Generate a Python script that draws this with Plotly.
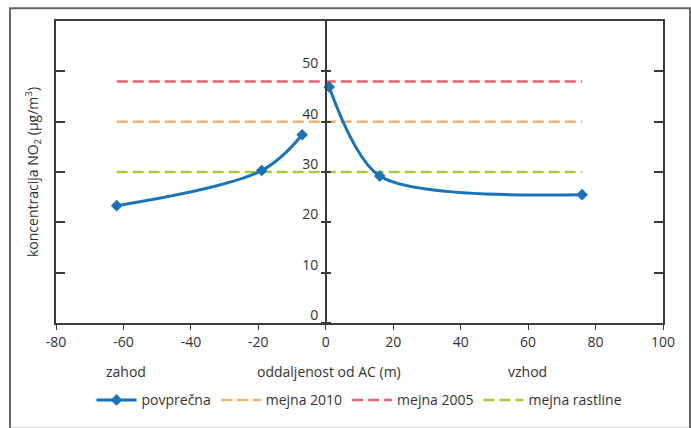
import plotly.graph_objects as go

# data
west_distance = [-62, -19, -7]
west_no2 = [23.3, 30.3, 37.4]
east_distance = [1, 16, 76]
east_no2 = [46.9, 29.2, 25.5]
limit_x = [-62, 76]
limit_2010 = 40
limit_2005 = 48
limit_plants = 30
x_ticks = [-80, -60, -40, -20, 0, 20, 40, 60, 80, 100]
x_tick_labels = ["-80", "-60", "-40", "-20", "0", "20", "40", "60", "80", "100"]
y_ticks = [0, 10, 20, 30, 40, 50]

FONT = "Open Sans"
TXT = "#333333"
AX = "#3a3a3a"
BLUE = "#1a73ba"

fig = go.Figure()

fig.add_trace(go.Scatter(x=limit_x, y=[limit_2010]*2, mode="lines", name="mejna 2010",
                         line=dict(color="#f8ae6c", width=2.5, dash="11px,5px"), legendrank=2))
fig.add_trace(go.Scatter(x=limit_x, y=[limit_2005]*2, mode="lines", name="mejna 2005",
                         line=dict(color="#f0606a", width=2.5, dash="11px,5px"), legendrank=3))
fig.add_trace(go.Scatter(x=limit_x, y=[limit_plants]*2, mode="lines", name="mejna rastline",
                         line=dict(color="#a6cc3c", width=2.5, dash="11px,5px"), legendrank=4))
for xs, ys, show, sm in [(west_distance, west_no2, True, 1.0), (east_distance, east_no2, False, 0.8)]:
    fig.add_trace(go.Scatter(x=xs, y=ys, mode="lines+markers", name="povprečna",
                             legendgroup="avg", showlegend=show,
                             line=dict(color=BLUE, width=3, shape="spline", smoothing=sm),
                             marker=dict(symbol="diamond", size=9, color=BLUE), legendrank=1))

# middle axis (at x=0)
fig.add_trace(go.Scatter(x=[0], y=[0], yaxis="y2", mode="markers", marker=dict(opacity=0),
                         showlegend=False, hoverinfo="skip"))
fig.add_trace(go.Scatter(x=[0], y=[0], yaxis="y3", mode="markers", marker=dict(opacity=0),
                         showlegend=False, hoverinfo="skip"))

mid_pos = (0 - (-80)) / (100 - (-80))

fig.update_layout(
    width=691, height=428,
    margin=dict(l=56, r=28, t=21, b=98),
    paper_bgcolor="white", plot_bgcolor="white",
    font=dict(family=FONT, size=14, color=TXT),
    xaxis=dict(range=[-80, 100], tickvals=x_ticks, ticktext=x_tick_labels, ticks="outside",
               ticklen=5, tickcolor=AX,
               showline=True, linecolor=AX, linewidth=1.5, mirror=True, showgrid=False,
               zeroline=False, automargin=False, tickfont=dict(size=14, color=TXT)),
    yaxis=dict(range=[0, 60], tickvals=[0, 10, 20, 30, 40, 50, 60], ticks="inside", ticklen=9,
               tickcolor=AX, tickwidth=1.5, showticklabels=False, showline=True, linecolor=AX,
               linewidth=1.5, mirror="ticks", showgrid=False, zeroline=False, automargin=False,
               title=dict(text="koncentracija NO<sub>2</sub> (µg/m<sup>3</sup>)",
                          font=dict(size=14, color=TXT), standoff=12)),
    yaxis2=dict(range=[0, 60], overlaying="y", anchor="free", position=mid_pos, side="left",
                tickvals=y_ticks, ticks="outside", ticklen=4, tickcolor=AX, tickwidth=1.5,
                showline=True, linecolor=AX, linewidth=1.5, showgrid=False, zeroline=False,
                automargin=False, ticklabelshift=-8, tickfont=dict(size=14, color=TXT)),
    yaxis3=dict(range=[0, 60], overlaying="y", anchor="free", position=mid_pos, side="right",
                tickvals=y_ticks, ticks="outside", ticklen=4, tickcolor=AX, tickwidth=1.5,
                showticklabels=False, showline=False, showgrid=False, zeroline=False,
                automargin=False),
    legend=dict(orientation="h", x=0.5, xanchor="center", y=-0.256, yanchor="middle",
                font=dict(size=14, color=TXT), traceorder="normal", itemwidth=40),
    showlegend=True,
)

# direction / axis labels
for txt, xv in [("zahod", -59.2), ("oddaljenost od AC (m)", 1), ("vzhod", 59.8)]:
    fig.add_annotation(text=txt, x=xv, xref="x", y=-0.159, yref="paper", showarrow=False,
                       xanchor="center", yanchor="middle", font=dict(size=14, color=TXT))

# outer frame
fig.add_shape(type="rect", xref="paper", yref="paper", x0=-0.0758, x1=1.0445, y0=-0.35, y1=1.042,
              line=dict(color="#666666", width=2), layer="below")

fig.write_html("out.html", config={"displayModeBar": False},
               post_script="document.body.style.margin='0';")
